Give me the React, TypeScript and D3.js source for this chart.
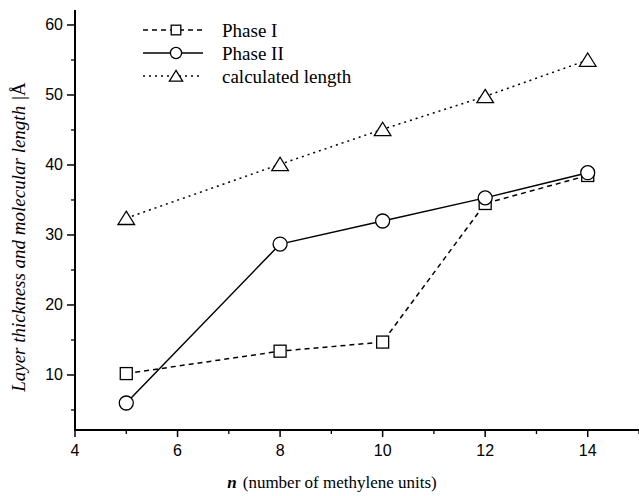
import React from "react";
import * as d3 from "d3";

const nValues = [5, 8, 10, 12, 14];
const phaseI = [10.2, 13.4, 14.7, 34.5, 38.5];
const phaseII = [6.0, 28.7, 32.0, 35.3, 38.9];
const calculated = [32.4, 40.1, 45.1, 49.8, 55.0];
const xTicks = [4, 6, 8, 10, 12, 14];
const yTicks = [10, 20, 30, 40, 50, 60];
const legendLabels = ["Phase I", "Phase II", "calculated length"];

const W = 639;
const H = 496;
const left = 75;
const right = 639;
const top = 10;
const bottom = 430;

export default function App() {
  const x = d3.scaleLinear().domain([4, 15]).range([left, right]);
  const y = d3.scaleLinear().domain([2.14, 62.14]).range([bottom, top]);
  const line = d3
    .line<[number, number]>()
    .x((d) => x(d[0]))
    .y((d) => y(d[1]));

  const series = [
    { vals: phaseI, dash: "5,4", marker: "square" },
    { vals: phaseII, dash: "none", marker: "circle" },
    { vals: calculated, dash: "2,4", marker: "triangle" },
  ];

  const marker = (kind: string, cx: number, cy: number, key: string, k = 1) => {
    if (kind === "square") {
      const h = 6 * k;
      return (
        <rect key={key} x={cx - h} y={cy - h} width={2 * h} height={2 * h} fill="#fff" stroke="#000" strokeWidth={1.3} />
      );
    }
    if (kind === "circle")
      return <circle key={key} cx={cx} cy={cy} r={7 * k} fill="#fff" stroke="#000" strokeWidth={1.3} />;
    const hw = 8.3 * k;
    return (
      <path
        key={key}
        d={`M${cx},${cy - 7 * k} L${cx + hw},${cy + 6.3 * k} L${cx - hw},${cy + 6.3 * k} Z`}
        fill="#fff"
        stroke="#000"
        strokeWidth={1.3}
      />
    );
  };

  const minorY = d3.range(5, 61, 5).filter((v) => v % 10 !== 0);
  const minorX = d3.range(5, 16, 2);

  return (
    <svg
      width={W}
      height={H}
      style={{ position: "absolute", left: 0, top: 0, background: "#fff" }}
    >
      {/* series lines */}
      {series.map((s, i) => (
        <path
          key={"l" + i}
          d={line(nValues.map((n, j) => [n, s.vals[j]]) as [number, number][]) || ""}
          fill="none"
          stroke="#000"
          strokeWidth={1.5}
          strokeDasharray={s.dash}
        />
      ))}
      {series.map((s, i) =>
        nValues.map((n, j) => marker(s.marker, x(n), y(s.vals[j]), `m${i}-${j}`))
      )}

      {/* axes */}
      <line x1={left} x2={left} y1={top} y2={bottom + 1} stroke="#000" strokeWidth={2} />
      <line x1={left} x2={right} y1={bottom} y2={bottom} stroke="#000" strokeWidth={2} />
      {yTicks.map((t) => (
        <g key={"yt" + t}>
          <line x1={left - 8} x2={left} y1={y(t)} y2={y(t)} stroke="#000" strokeWidth={1.5} />
          <text
            x={left - 12}
            y={y(t)}
            textAnchor="end"
            dominantBaseline="central"
            fontFamily="Liberation Sans, Arial, sans-serif"
            fontSize={16}
          >
            {t}
          </text>
        </g>
      ))}
      {minorY.map((t) => (
        <line key={"ym" + t} x1={left - 4} x2={left} y1={y(t)} y2={y(t)} stroke="#000" strokeWidth={1.3} />
      ))}
      {xTicks.map((t) => (
        <g key={"xt" + t}>
          <line x1={x(t)} x2={x(t)} y1={bottom} y2={bottom + 7} stroke="#000" strokeWidth={1.5} />
          <text
            x={x(t)}
            y={bottom + 20}
            textAnchor="middle"
            dominantBaseline="central"
            fontFamily="Liberation Sans, Arial, sans-serif"
            fontSize={16}
          >
            {t}
          </text>
        </g>
      ))}
      {minorX.map((t) => (
        <line key={"xm" + t} x1={x(t)} x2={x(t)} y1={bottom} y2={bottom + 4} stroke="#000" strokeWidth={1.3} />
      ))}

      {/* axis titles */}
      <text
        x={332}
        y={488}
        textAnchor="middle"
        fontFamily="Liberation Serif, Times New Roman, serif"
        fontSize={17}
      >
        <tspan fontStyle="italic" fontWeight="bold">n</tspan>
        <tspan dx={6}>(number of methylene units)</tspan>
      </text>
      <text
        transform={`translate(25,237) rotate(-90)`}
        textAnchor="middle"
        fontFamily="Liberation Serif, Times New Roman, serif"
        fontSize={19}
        fontStyle="italic"
      >
        Layer thickness and molecular length |<tspan fontStyle="normal">Å</tspan>
      </text>

      {/* legend */}
      {series.map((s, i) => {
        const ly = 30 + i * 23;
        return (
          <g key={"lg" + i}>
            <line x1={143} x2={203} y1={ly} y2={ly} stroke="#000" strokeWidth={1.5} strokeDasharray={s.dash} />
            {marker(s.marker, 176, ly, "lm" + i, 0.8)}
            <text
              x={222}
              y={ly}
              dominantBaseline="central"
              fontFamily="Liberation Serif, Times New Roman, serif"
              fontSize={19}
            >
              {legendLabels[i]}
            </text>
          </g>
        );
      })}
    </svg>
  );
}
